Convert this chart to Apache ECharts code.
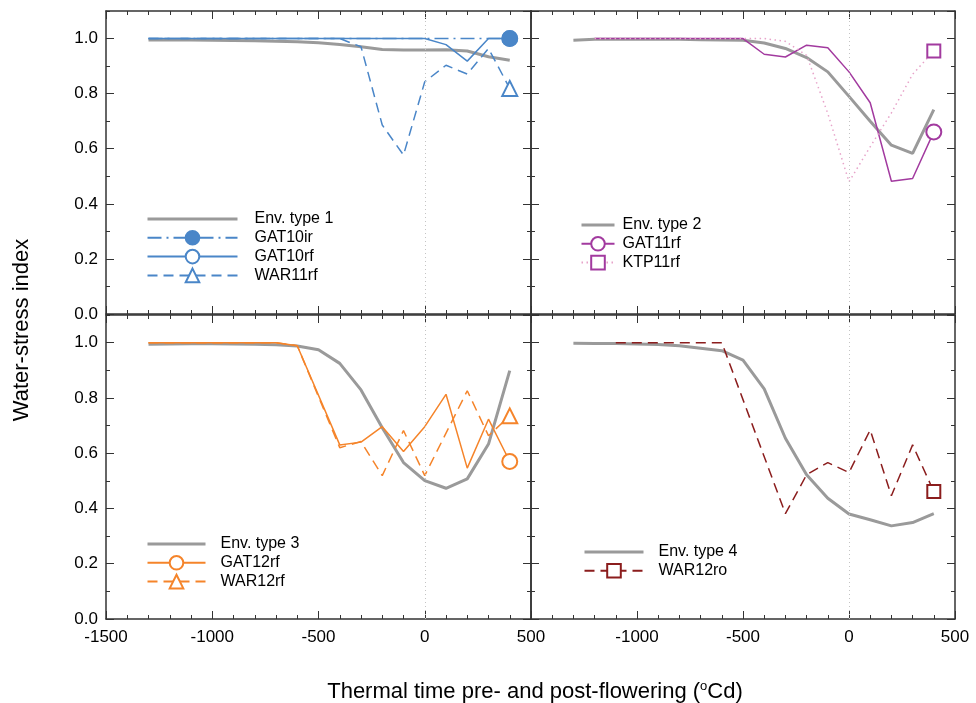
<!DOCTYPE html>
<html>
<head>
<meta charset="utf-8">
<script src="https://cdn.jsdelivr.net/npm/echarts@6/dist/echarts.min.js"></script>
<style>
  html, body { margin: 0; padding: 0; background: #fff; }
  #chart { width: 976px; height: 703px; }
</style>
</head>
<body>
<div id="chart"></div>
<script>
// thermal time (oCd) relative to flowering
const tt = [-1300, -1200, -1100, -1000, -900, -800, -700, -600, -500, -400, -300, -200, -100, 0, 100, 200, 300, 400];

// panel 1
const env1 = [0.995, 0.995, 0.995, 0.994, 0.993, 0.992, 0.99, 0.988, 0.985, 0.978, 0.97, 0.96, 0.958, 0.958, 0.959, 0.955, 0.934, 0.921];
const gat10ir = [1, 1, 1, 1, 1, 1, 1, 1, 1, 1, 1, 1, 1, 1, 1, 1, 1, 1];
const gat10rf = [1, 1, 1, 1, 1, 1, 1, 1, 1, 1, 1, 1, 1, 1, 0.978, 0.918, 1, 1];
const war11rf = [1, 1, 1, 1, 1, 1, 1, 1, 1, 1, 0.97, 0.686, 0.577, 0.843, 0.903, 0.871, 0.964, 0.819];

// panel 2
const env2 = [0.994, 0.997, 0.997, 0.997, 0.997, 0.997, 0.996, 0.995, 0.994, 0.984, 0.964, 0.931, 0.879, 0.79, 0.70, 0.613, 0.583, 0.742];
const gat11rf = [null, 1, 1, 1, 1, 1, 1, 1, 1, 0.943, 0.933, 0.976, 0.967, 0.879, 0.767, 0.482, 0.492, 0.661];
const ktp11rf = [null, 1, 1, 1, 1, 1, 1, 1, 1, 1, 0.99, 0.939, 0.728, 0.48, 0.607, 0.73, 0.87, 0.955];

// panel 3
const env3 = [0.994, 0.995, 0.996, 0.996, 0.995, 0.994, 0.992, 0.988, 0.974, 0.925, 0.829, 0.692, 0.566, 0.501, 0.473, 0.507, 0.633, 0.899];
const gat12rf = [1, 1, 1, 1, 1, 1, 1, 0.989, null, 0.63, 0.64, 0.696, 0.606, 0.696, 0.813, 0.546, 0.723, 0.57];
const war12rf = [1, 1, 1, 1, 1, 1, 1, 0.989, null, 0.62, 0.642, 0.519, 0.682, 0.519, null, 0.826, 0.663, 0.735];

// panel 4
const env4 = [0.998, 0.997, 0.997, 0.995, 0.993, 0.989, 0.98, 0.971, 0.937, 0.833, 0.654, 0.522, 0.437, 0.38, 0.359, 0.337, 0.349, 0.381];
const war12ro = [null, null, 1, 1, 1, 1, 1, 1, null, null, 0.381, 0.522, 0.566, 0.53, 0.684, 0.446, 0.63, 0.461];

const xTicks = [-1500, -1000, -500, 0, 500];
const yTicks = [0, 0.2, 0.4, 0.6, 0.8, 1.0];

const FONT = "'Liberation Sans', Arial, sans-serif";
const BLUE = '#4a86c8', PURPLE = '#a23a9f', PINK = '#e7a3c9', ORANGE = '#f5842a', DRED = '#8b1d1d', GREY = '#9a9a9a';

const grids = [
  { left: 106, top: 11, width: 425, height: 303 },
  { left: 531, top: 11, width: 424, height: 303 },
  { left: 106, top: 315, width: 425, height: 304 },
  { left: 531, top: 315, width: 424, height: 304 }
];

const xAxis = [], yAxis = [];
grids.forEach((g, i) => {
  ['bottom', 'top'].forEach(pos => {
    xAxis.push({
      gridIndex: i, type: 'value', position: pos,
      min: xTicks[0], max: xTicks[xTicks.length - 1], interval: 500,
      axisLine: { show: true, onZero: false, lineStyle: { color: '#333', width: 1.5 } },
      axisTick: { show: true, inside: true, length: 8, lineStyle: { color: '#333' } },
      minorTick: { show: true, splitNumber: 5, length: 4, lineStyle: { color: '#333' } },
      splitLine: { show: false },
      axisLabel: {
        show: pos === 'bottom' && i >= 2, showMinLabel: i !== 3,
        formatter: v => String(v),
        color: '#000', fontFamily: FONT, fontSize: 17, margin: 10
      }
    });
  });
  ['left', 'right'].forEach(pos => {
    // major ticks
    yAxis.push({
      gridIndex: i, type: 'value', position: pos, min: yTicks[0], max: 1.1, interval: 0.2,
      axisLine: { show: true, onZero: false, lineStyle: { color: '#333', width: 1.5 } },
      axisTick: { show: true, inside: true, length: 8, lineStyle: { color: '#333' } },
      splitLine: { show: false },
      axisLabel: {
        show: pos === 'left' && (i === 0 || i === 2), showMaxLabel: false,
        formatter: v => v.toFixed(1),
        color: '#000', fontFamily: FONT, fontSize: 17, margin: 8
      }
    });
    // minor ticks
    yAxis.push({
      gridIndex: i, type: 'value', position: pos, min: 0, max: 1.1, interval: 0.1,
      axisLine: { show: false, onZero: false },
      axisTick: { show: true, inside: true, length: 4, lineStyle: { color: '#333' } },
      splitLine: { show: false },
      axisLabel: { show: false }
    });
  });
});

function pairs(vals) {
  return tt.map((t, k) => [t, vals[k]]);
}
const lastOnly = size => (v, p) => (p.dataIndex === tt.length - 1 ? size : 0);

function envSeries(i, name, vals) {
  return {
    name, type: 'line', xAxisIndex: 2 * i, yAxisIndex: 4 * i,
    data: pairs(vals), symbol: 'none', smooth: false,
    lineStyle: { color: GREY, width: 3 }, itemStyle: { color: GREY },
    markLine: {
      silent: true, symbol: 'none', label: { show: false },
      lineStyle: { color: '#c4c4c4', type: [1, 3], width: 1 },
      data: [{ xAxis: 0 }]
    },
    z: 1
  };
}
function obsSeries(i, name, vals, color, symbol, size, dash, z) {
  return {
    name, type: 'line', xAxisIndex: 2 * i, yAxisIndex: 4 * i,
    data: pairs(vals), connectNulls: true,
    symbol, symbolSize: lastOnly(size), showAllSymbol: true,
    lineStyle: { color, width: 1.5, type: dash },
    itemStyle: { color, borderColor: color, borderWidth: 1.5 },
    z: z || 2
  };
}

const series = [
  envSeries(0, 'Env. type 1', env1),
  obsSeries(0, 'GAT10ir', gat10ir, BLUE, 'circle', 15, [14, 5, 2, 5], 4),
  obsSeries(0, 'GAT10rf', gat10rf, BLUE, 'emptyCircle', 15, 'solid'),
  obsSeries(0, 'WAR11rf', war11rf, BLUE, 'emptyTriangle', 15, [10, 6]),
  envSeries(1, 'Env. type 2', env2),
  obsSeries(1, 'GAT11rf', gat11rf, PURPLE, 'emptyCircle', 15, 'solid'),
  obsSeries(1, 'KTP11rf', ktp11rf, PINK, 'emptyRect', 13, [1.5, 3.5]),
  envSeries(2, 'Env. type 3', env3),
  obsSeries(2, 'GAT12rf', gat12rf, ORANGE, 'emptyCircle', 15, 'solid'),
  obsSeries(2, 'WAR12rf', war12rf, ORANGE, 'emptyTriangle', 15, [10, 6]),
  envSeries(3, 'Env. type 4', env4),
  obsSeries(3, 'WAR12ro', war12ro, DRED, 'emptyRect', 13, [10, 6])
];
// KTP11rf marker drawn in the darker purple like the reference
series[6].itemStyle = { color: PURPLE, borderColor: PURPLE, borderWidth: 1.5 };

function legend(names, left, top, w, pad) {
  return {
    orient: 'vertical', left, top, itemWidth: w, itemHeight: 17, itemGap: 2.8,
    // the env curves have no marker: hide the symbol in their legend icon
    data: names.map((n, k) => (k === 0
      ? { name: n, itemStyle: { opacity: 0 }, lineStyle: { width: 3 } }
      : n)),
    selectedMode: false,
    textStyle: { fontFamily: FONT, fontSize: 16, color: '#000', padding: [0, 0, 0, pad] }
  };
}

const chart = echarts.init(document.getElementById('chart'), null, { renderer: 'canvas' });
chart.setOption({
  animation: false,
  backgroundColor: '#fff',
  grid: grids,
  xAxis, yAxis, series,
  legend: [
    legend(['Env. type 1', 'GAT10ir', 'GAT10rf', 'WAR11rf'], 141, 206, 90, 12),
    legend(['Env. type 2', 'GAT11rf', 'KTP11rf'], 575, 212, 33, 3),
    legend(['Env. type 3', 'GAT12rf', 'WAR12rf'], 141, 531, 58, 10),
    legend(['Env. type 4', 'WAR12ro'], 578, 539, 59, 10)
  ],
  title: {
    left: 530, top: 675, textAlign: 'center',
    text: 'Thermal time pre- and post-flowering ({sup|o}Cd)',
    textStyle: {
      fontFamily: FONT, fontSize: 22, fontWeight: 'normal', color: '#000',
      rich: { sup: { fontFamily: FONT, fontSize: 13, verticalAlign: 'top', padding: [0, 0, 10, 0] } }
    }
  },
  graphic: [{
    type: 'text', x: 22, y: 330, rotation: Math.PI / 2,
    style: {
      text: 'Water-stress index', fill: '#000',
      font: '22px ' + FONT, textAlign: 'center', textVerticalAlign: 'middle'
    }
  }]
});
</script>
</body>
</html>
